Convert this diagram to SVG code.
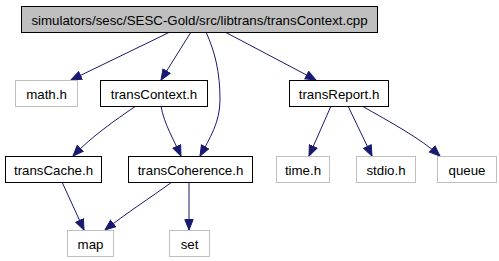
<svg xmlns="http://www.w3.org/2000/svg" width="499" height="261" viewBox="0 0 499 261">
  <style>
    .box { fill: #ffffff; stroke: #000000; stroke-width: 1; }
    .ext { fill: #ffffff; stroke: #bfbfbf; stroke-width: 1; }
    .root { fill: #bfbfbf; stroke: #000000; stroke-width: 1; }
    text { font-family: "Liberation Sans", Arial, sans-serif; font-size: 13.3px; fill: #000000; text-anchor: middle; }
    .edge { fill: none; stroke: #191970; stroke-width: 1; marker-end: url(#arrow); }
  </style>
  <defs>
    <marker id="arrow" markerUnits="userSpaceOnUse" markerWidth="12" markerHeight="10" refX="11" refY="5" orient="auto" viewBox="0 0 12 10">
      <path d="M0.5,0.8 L11,5 L0.5,9.2 z" fill="#191970" stroke="#191970" stroke-width="1"/>
    </marker>
  </defs>

  <g id="edges">
    <path class="edge" d="M170,32 L71,80"/>
    <path class="edge" d="M191,32 L161,80"/>
    <path class="edge" d="M206,32 C215,52 220,72 220,100 C220,122 210,138 200,156"/>
    <path class="edge" d="M225,32 L316,80"/>
    <path class="edge" d="M136,106 C115,120 90,138 73,156"/>
    <path class="edge" d="M161,106 C164,124 174,140 181,156"/>
    <path class="edge" d="M331,106 L309,156"/>
    <path class="edge" d="M348,106 L372,156"/>
    <path class="edge" d="M362,106 C390,122 420,138 440,156"/>
    <path class="edge" d="M62,182 L84,230"/>
    <path class="edge" d="M172,182 C150,198 125,214 105,230"/>
    <path class="edge" d="M189,182 L189,230"/>
  </g>

  <g id="node-root">
    <rect class="root" x="21.5" y="6.5" width="356" height="26"/>
    <text x="199.5" y="25">simulators/sesc/SESC-Gold/src/libtrans/transContext.cpp</text>
  </g>
  <g id="node-math">
    <rect class="ext" x="15.5" y="80.5" width="62" height="26"/>
    <text x="46.5" y="99">math.h</text>
  </g>
  <g id="node-transContext">
    <rect class="box" x="100.5" y="80.5" width="107" height="26"/>
    <text x="154" y="99">transContext.h</text>
  </g>
  <g id="node-transReport">
    <rect class="box" x="289.5" y="80.5" width="99" height="26"/>
    <text x="339" y="99">transReport.h</text>
  </g>
  <g id="node-transCache">
    <rect class="box" x="5.5" y="156.5" width="96" height="26"/>
    <text x="53.5" y="175">transCache.h</text>
  </g>
  <g id="node-transCoherence">
    <rect class="box" x="128.5" y="156.5" width="124" height="26"/>
    <text x="190.5" y="175">transCoherence.h</text>
  </g>
  <g id="node-time">
    <rect class="ext" x="276.5" y="156.5" width="53" height="26"/>
    <text x="303" y="175">time.h</text>
  </g>
  <g id="node-stdio">
    <rect class="ext" x="356.5" y="156.5" width="59" height="26"/>
    <text x="386" y="175">stdio.h</text>
  </g>
  <g id="node-queue">
    <rect class="ext" x="437.5" y="156.5" width="59" height="26"/>
    <text x="467" y="175">queue</text>
  </g>
  <g id="node-map">
    <rect class="ext" x="67.5" y="230.5" width="46" height="26"/>
    <text x="90.5" y="249">map</text>
  </g>
  <g id="node-set">
    <rect class="ext" x="169.5" y="230.5" width="40" height="26"/>
    <text x="189.5" y="249">set</text>
  </g>
</svg>
